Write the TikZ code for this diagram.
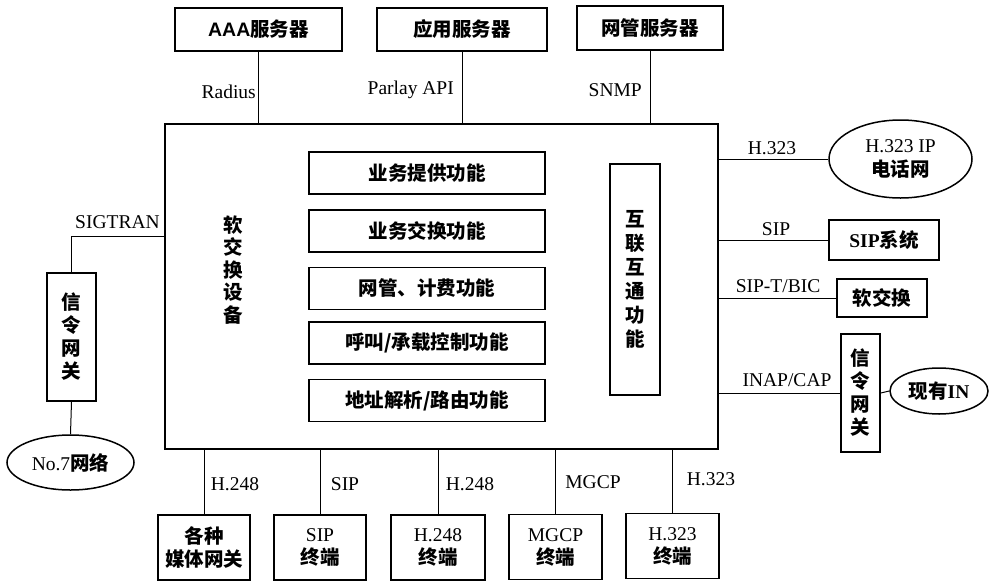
\documentclass[tikz,border=0pt]{standalone}
\usepackage{fontspec}
\usepackage{tikz}
\usetikzlibrary{shapes.geometric}
\setmainfont{Liberation Serif}
\newfontfamily\cjk{Noto Sans CJK SC}
\newfontfamily\sansfont{Liberation Sans}
\newcommand\en[1]{{\rmfamily\mdseries #1}}
\newcommand\enb[1]{{\rmfamily\bfseries #1}}

\begin{document}
\begin{tikzpicture}[x=1pt,y=-1pt,
  box/.style={draw,line width=1.5pt,inner sep=0pt,align=center,
    font=\cjk\bfseries\fontsize{19.5}{23}\selectfont},
  oval/.style={box,ellipse},
  lbl/.style={inner sep=0pt,font=\fontsize{19.5}{23}\selectfont},
  link/.style={line width=1pt}]
  \useasboundingbox (0,0) rectangle (994,584);
  % servers on top
  \node[box,minimum width=167pt,minimum height=43pt] (aaa) at (258.5,29.5) {{\sansfont\bfseries AAA}服务器};
  \node[box,minimum width=170pt,minimum height=43pt] (app) at (462,29.5) {应用服务器};
  \node[box,minimum width=146pt,minimum height=44pt] (nms) at (650,28) {网管服务器};
  % softswitch
  \node[box,line width=1.8pt,minimum width=553pt,minimum height=325pt] (main) at (441.5,286.5) {};
  \node[inner sep=0pt,align=center,font=\cjk\bfseries\fontsize{19.5}{22.5}\selectfont] (swname) at (233,270) {软\\交\\换\\设\\备};
  \node[box,minimum width=236pt,minimum height=42pt] (f1) at (427,173) {业务提供功能};
  \node[box,minimum width=236pt,minimum height=42pt] (f2) at (427,231) {业务交换功能};
  \node[box,minimum width=236pt,minimum height=42pt] (f3) at (427,288.5) {网管、计费功能};
  \node[box,minimum width=236pt,minimum height=42pt] (f4) at (427,343) {呼叫/承载控制功能};
  \node[box,minimum width=236pt,minimum height=42pt] (f5) at (427,400.5) {地址解析/路由功能};
  \node[box,minimum width=50pt,minimum height=231pt,font=\cjk\bfseries\fontsize{19.5}{24}\selectfont] (iw) at (635,279.5) {互\\联\\互\\通\\功\\能};
  % right side
  \node[oval,minimum width=143pt,minimum height=78pt,font=\fontsize{19.5}{24}\selectfont] (ipnet) at (900.5,159) {H.323 IP\\{\cjk\bfseries 电话网}};
  \node[box,minimum width=110pt,minimum height=40pt] (sipsys) at (884,240) {\enb{SIP}系统};
  \node[box,minimum width=90pt,minimum height=38pt] (softsw) at (882,298) {软交换};
  \node[box,minimum width=39pt,minimum height=118pt,font=\cjk\bfseries\fontsize{19.5}{23}\selectfont] (sgr) at (860.5,393) {信\\令\\网\\关};
  \node[oval,minimum width=98pt,minimum height=46pt] (curin) at (939,391) {现有\enb{IN}};
  % left side
  \node[box,minimum width=49pt,minimum height=128pt,font=\cjk\bfseries\fontsize{19.5}{23}\selectfont] (sgl) at (71.5,337) {信\\令\\网\\关};
  \node[oval,minimum width=127pt,minimum height=55pt] (no7) at (70.5,462.5) {\en{No.7}网络};
  \coordinate (sigin) at (165,236);
  % terminals at the bottom
  \node[box,minimum width=92pt,minimum height=65pt] (mgw) at (204,547.5) {各种\\媒体网关};
  \node[box,minimum width=92pt,minimum height=65pt] (sipt) at (320,547.5) {\en{SIP}\\终端};
  \node[box,minimum width=94pt,minimum height=65pt] (h248t) at (438,547.5) {\en{H.248}\\终端};
  \node[box,minimum width=93pt,minimum height=65pt] (mgcpt) at (555.5,547) {\en{MGCP}\\终端};
  \node[box,minimum width=93pt,minimum height=65pt] (h323t) at (672.5,546) {\en{H.323}\\终端};
  % links
  \draw[link] (aaa.south) -- (aaa.south |- main.north);
  \draw[link] (app.south) -- (app.south |- main.north);
  \draw[link] (nms.south) -- (nms.south |- main.north);
  \draw[link] (ipnet.west) -- (ipnet.west -| main.east);
  \draw[link] (sipsys.west) -- (sipsys.west -| main.east);
  \draw[link] (softsw.west) -- (softsw.west -| main.east);
  \draw[link] (sgr.west) -- (sgr.west -| main.east);
  \draw[link] (sgr.east) -- (curin.west);
  \draw[link] (sigin) -| (sgl.north);
  \draw[link] (sgl.south) -- (no7.north);
  \foreach \t in {mgw,sipt,h248t,mgcpt,h323t}
    \draw[link] (\t.north) -- (\t.north |- main.south);
  % protocol labels
  \node[lbl,anchor=east] (lradius) at (256,92) {Radius};
  \node[lbl,anchor=east] (lparlay) at (454,90) {Parlay API};
  \node[lbl,anchor=east] (lsnmp) at (642,90) {SNMP};
  \node[lbl] (lsigtran) at (117.5,222) {SIGTRAN};
  \node[lbl] (lh323r) at (772,148) {H.323};
  \node[lbl] (lsip) at (776,229) {SIP};
  \node[lbl] (lsipt) at (778,286) {SIP-T/BIC};
  \node[lbl] (linap) at (787,380) {INAP/CAP};
  \node[lbl] (lh248a) at (235,484) {H.248};
  \node[lbl] (lsipb) at (345,484) {SIP};
  \node[lbl] (lh248b) at (470,484) {H.248};
  \node[lbl] (lmgcp) at (593,482) {MGCP};
  \node[lbl] (lh323b) at (711,479) {H.323};
\end{tikzpicture}
\end{document}
